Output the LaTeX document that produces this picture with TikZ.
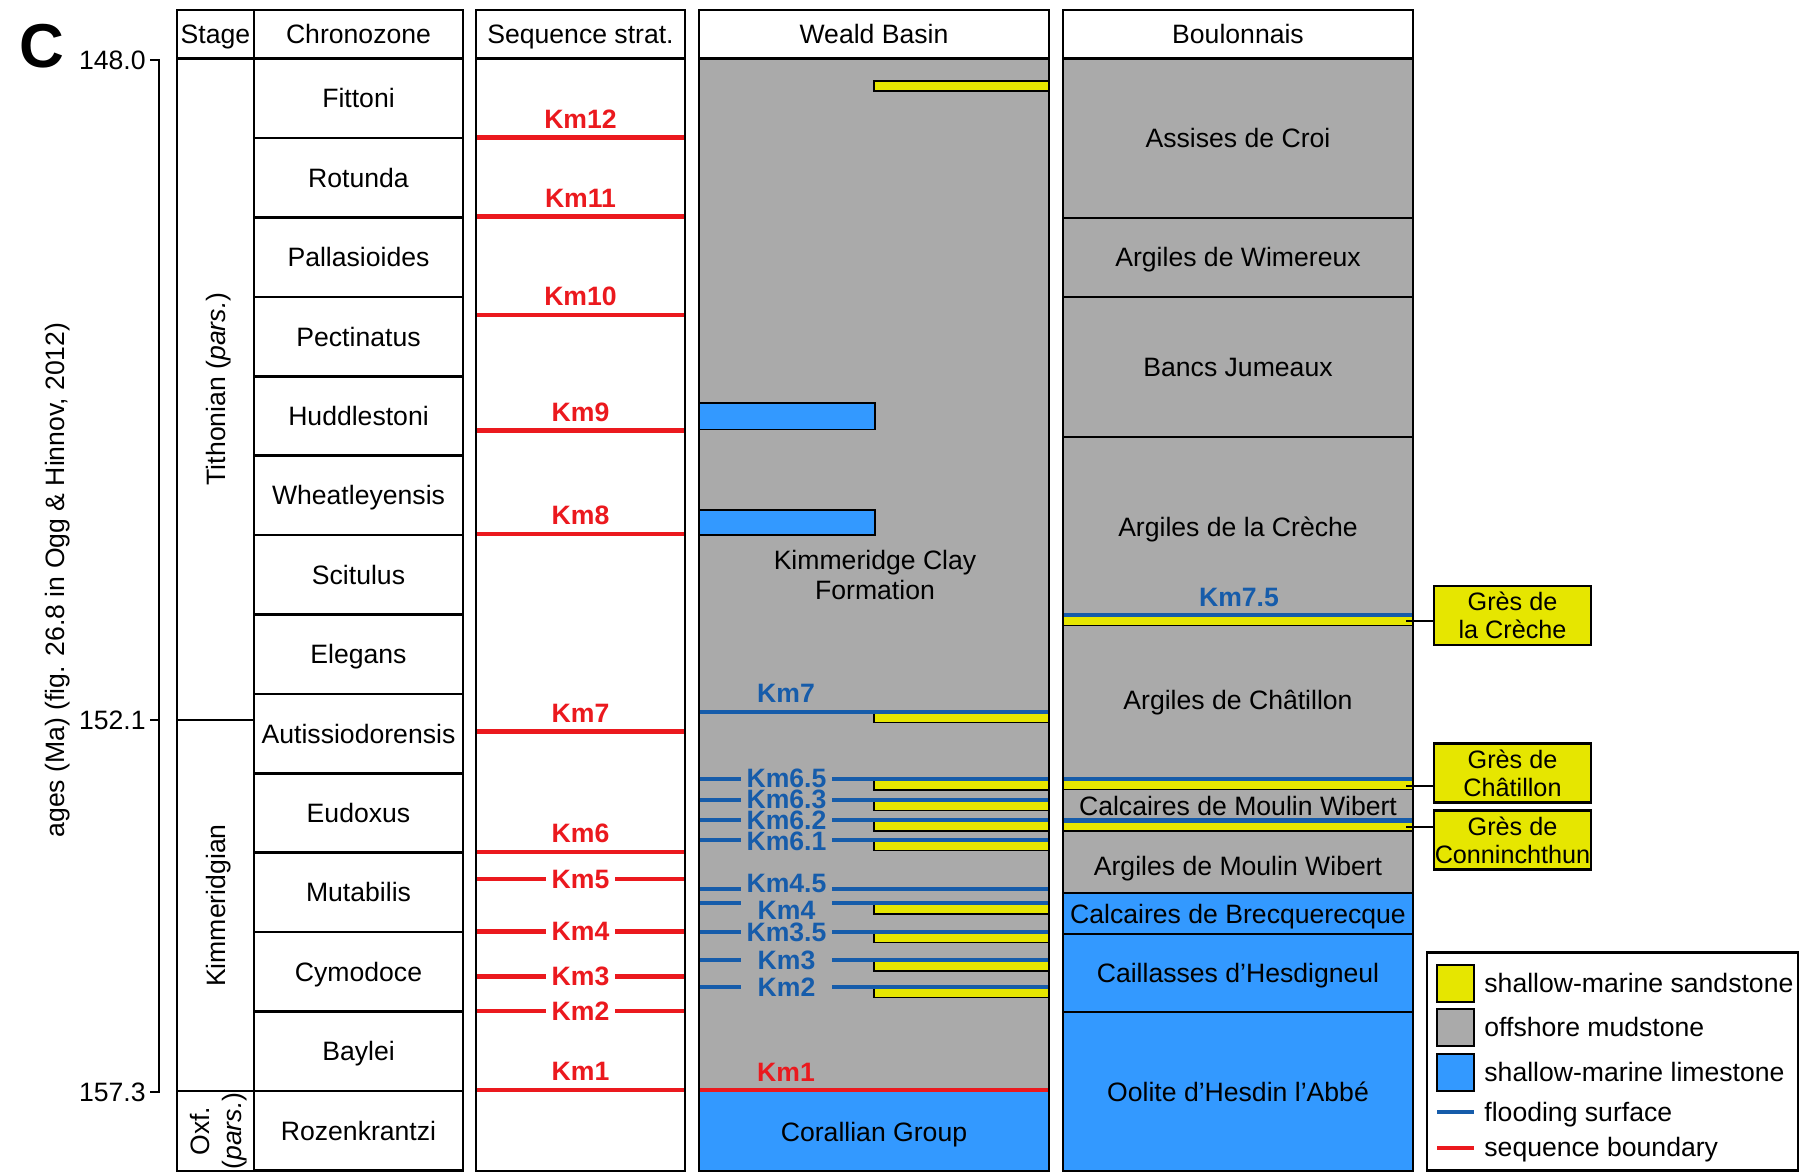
\documentclass[tikz,border=0pt]{standalone}
\usepackage{fontspec}
\setmainfont{Liberation Sans}
\usepackage{tikz}
\usetikzlibrary{positioning}
\definecolor{SandYellow}{RGB}{230,230,0}
\definecolor{MudGrey}{RGB}{170,170,170}
\definecolor{LimeBlue}{RGB}{51,153,255}
\definecolor{FloodBlue}{RGB}{22,92,170}
\definecolor{SeqRed}{RGB}{235,25,30}

\begin{document}
\begin{tikzpicture}[x=0.5pt, y=-0.5pt,
    every node/.style={font=\fontsize{13.3}{15}\selectfont, inner sep=0pt, text depth=0pt},
    frame/.style={line width=1.3pt},
    thinframe/.style={line width=0.8pt},
    kmlabel/.style={font=\fontsize{13.3}{15}\selectfont\bfseries},
    seqline/.style={SeqRed, line width=2.3pt},
    floodline/.style={FloodBlue, line width=2.1pt},
    sandbed/.style={fill=SandYellow, draw=black, line width=0.8pt},
    gresbox/.style={fill=SandYellow, draw=black, line width=1.2pt, align=center,
      minimum width=78.5pt, minimum height=29.5pt, font=\fontsize{12.6}{14.2}\selectfont}]
  \useasboundingbox (0,0) rectangle (1800,1173);

  % Panel letter and age axis
  \node[font=\fontsize{31}{31}\selectfont\bfseries] (panel) at (42,46) {C};
  \node[rotate=90] (agetitle) at (54.5,580) {ages (Ma) (fig. 26.8 in Ogg \& Hinnov, 2012)};
  \draw[line width=1.2pt] (150,60) -- (159,60) -- (159,1092) -- (150,1092);
  \draw[line width=1.2pt] (150,720) -- (159,720);
  \foreach \y/\age/\n in {60/148.0/top, 720/152.1/mid, 1092/157.3/bot}
    \node[anchor=east] (age\n) at (146,\y) {\age};

  % Column headers
  \foreach \x/\head [count=\i] in {215.5/Stage, 358.5/Chronozone, 580.5/Sequence strat.,
      874/Weald Basin, 1238/Boulonnais}
    \node (head\i) at (\x,34) {\head};

  % Stage and chronozone columns
  \foreach \i/\zone in {0/Fittoni, 1/Rotunda, 2/Pallasioides, 3/Pectinatus, 4/Huddlestoni,
      5/Wheatleyensis, 6/Scitulus, 7/Elegans, 8/Autissiodorensis, 9/Eudoxus,
      10/Mutabilis, 11/Cymodoce, 12/Baylei, 13/Rozenkrantzi}{
    \node (zone\i) at (358.5,{58.6+79.4*(\i+0.5)}) {\zone};
    \draw[frame] (254,{58.6+79.4*(\i+1)}) -- (463,{58.6+79.4*(\i+1)});
  }
  \node[rotate=90] (tith) at (215.5,389) {Tithonian (\textit{pars.})};
  \node[rotate=90] (kimm) at (215.5,905.5) {Kimmeridgian};
  \node[rotate=90, align=center, font=\fontsize{13.3}{16}\selectfont] (oxf) at (215.5,1131) {Oxf.\\(\textit{pars.})};
  \draw[frame] (177,10) rectangle (463,1171);
  \draw[frame] (254,10) -- (254,1171);
  \draw[frame] (177,58.6) -- (463,58.6);
  \draw[frame] (177,720) -- (254,720);
  \draw[frame] (177,1091) -- (254,1091);

  % Sequence stratigraphy: boundaries with label above
  \foreach \y/\km in {137.5/12, 216.5/11, 315/10, 430.5/9, 534/8, 731.7/7, 852/6, 1090/1}{
    \draw[seqline] (476,\y) -- (685,\y);
    \node[kmlabel, text=SeqRed] (sb\km) at (580.5,{\y-18.5}) {Km\km};
  }
  % boundaries with label inline
  \foreach \y/\km in {879/5, 931.7/4, 976.7/3, 1011/2}{
    \node[kmlabel, text=SeqRed, minimum width=34.5pt] (sb\km) at (580.5,\y) {Km\km};
    \draw[seqline] (476,\y) -- (sb\km.west);
    \draw[seqline] (sb\km.east) -- (685,\y);
  }
  \draw[frame] (476,10) rectangle (685,1171);
  \draw[frame] (476,58.6) -- (685,58.6);

  % Weald Basin
  \fill[MudGrey] (699,58.6) rectangle (1049,1091);
  \fill[LimeBlue] (699,1091) rectangle (1049,1171);
  \draw[sandbed] (874,81) rectangle (1049,91);
  \draw[thinframe, fill=LimeBlue] (699,403) rectangle (875,429.5);
  \draw[thinframe, fill=LimeBlue] (699,510) rectangle (875,535);
  \node[align=center] (kcf) at (875,575) {Kimmeridge Clay\\Formation};
  \draw[sandbed] (874,713) rectangle (1049,722.5);
  \draw[floodline] (699,712) -- (1049,712);
  \node[kmlabel, text=FloodBlue] (fs7) at (786,693) {Km7};
  \foreach \y in {779.3, 800, 820.3, 840, 903.3, 932, 960.3, 987}
    \draw[sandbed] (874,{\y+1}) rectangle (1049,{\y+10.5});
  % flooding surfaces: line level / label level
  \foreach \y/\ly/\km/\n in {779.3/778.5/6.5/a, 800/799/6.3/b, 820.3/820/6.2/c, 840/841/6.1/d,
      889/883/4.5/e, 903.3/910/4/f, 932/932/3.5/g, 960.3/960/3/h, 987/987/2/i}{
    \coordinate (fl\n) at (0,\y);
    \node[kmlabel, text=FloodBlue, minimum width=45.5pt] (fs\n) at (786.5,\ly) {Km\km};
    \draw[floodline] (699,\y) -- (fs\n.west |- fl\n);
    \draw[floodline] (fs\n.east |- fl\n) -- (1049,\y);
  }
  \draw[seqline] (699,1090) -- (1049,1090);
  \node[kmlabel, text=SeqRed] (sbw1) at (786,1072) {Km1};
  \node (corallian) at (874,1132) {Corallian Group};
  \draw[frame] (699,10) rectangle (1049,1171);
  \draw[frame] (699,58.6) -- (1049,58.6);

  % Boulonnais
  \fill[MudGrey] (1063,58.6) rectangle (1413,893);
  \fill[LimeBlue] (1063,893) rectangle (1413,1171);
  \foreach \y in {615, 779, 820.5}{
    \draw[sandbed] (1063,{\y+1}) rectangle (1413,{\y+10.5});
    \draw[floodline] (1063,\y) -- (1413,\y);
  }
  \foreach \y in {218, 297, 437, 893, 934, 1012}
    \draw[frame] (1063,\y) -- (1413,\y);
  \foreach \y/\unit [count=\i] in {138/Assises de Croi, 257/Argiles de Wimereux,
      367/Bancs Jumeaux, 527/Argiles de la Crèche, 700/Argiles de Châtillon,
      806/Calcaires de Moulin Wibert, 866/Argiles de Moulin Wibert,
      914/Calcaires de Brecquerecque, 973/Caillasses d’Hesdigneul,
      1092/Oolite d’Hesdin l’Abbé}
    \node (unit\i) at (1238,\y) {\unit};
  \node[kmlabel, text=FloodBlue] (fsb) at (1239,597) {Km7.5};
  \draw[frame] (1063,10) rectangle (1413,1171);
  \draw[frame] (1063,58.6) -- (1413,58.6);

  % Sandstone call-outs
  \node[gresbox] (gcreche) at (1512.5,615.5) {Grès de\\la Crèche};
  \node[gresbox] (gchat) at (1512.5,773) {Grès de\\Châtillon};
  \node[gresbox] (gconn) at (1512.5,840) {Grès de\\Conninchthun};
  \coordinate (bedcreche) at (1406,621);
  \coordinate (bedchat) at (1406,786);
  \coordinate (bedconn) at (1406,827);
  \draw[line width=1pt] (bedcreche) -- (bedcreche -| gcreche.west);
  \draw[line width=1pt] (bedchat) -- (bedchat -| gchat.west);
  \draw[line width=1pt] (bedconn) -- (bedconn -| gconn.west);

  % Legend
  \draw[frame] (1427,952.7) rectangle (1798,1170.7);
  \foreach \y/\col/\lab [count=\i] in {983/SandYellow/shallow-marine sandstone,
      1027/MudGrey/offshore mudstone, 1072/LimeBlue/shallow-marine limestone}{
    \draw[line width=1pt, fill=\col] (1437,{\y-18.5}) rectangle (1474,{\y+18.5});
    \node[anchor=base west] (leg\i) at (1484,{\y+9.5}) {\lab};
  }
  \draw[floodline] (1437,1112) -- (1474,1112);
  \node[anchor=base west] (leg4) at (1484,1121.5) {flooding surface};
  \draw[seqline] (1437,1148) -- (1474,1148);
  \node[anchor=base west] (leg5) at (1484,1156.5) {sequence boundary};
\end{tikzpicture}
\end{document}
